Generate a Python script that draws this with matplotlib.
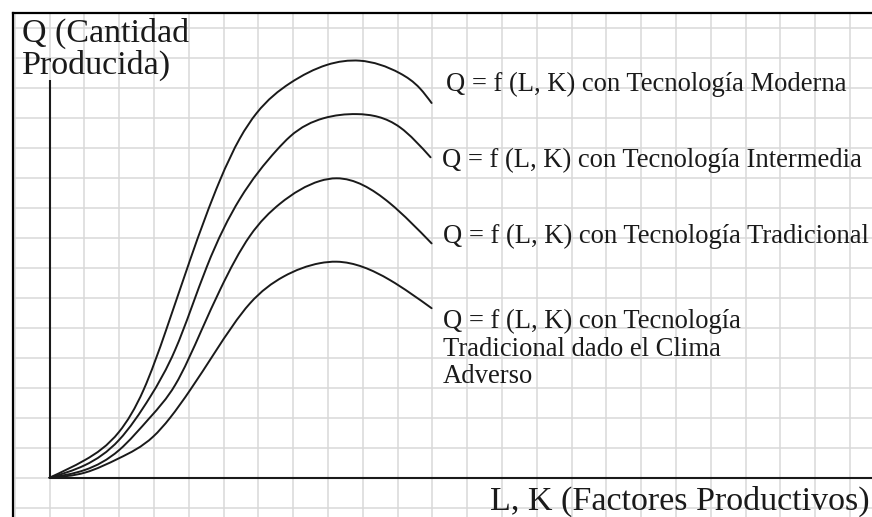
import numpy as np
import matplotlib
matplotlib.use("Agg")
import matplotlib.pyplot as plt
from matplotlib.path import Path
from matplotlib.patches import PathPatch

plt.rcParams['font.family'] = ['Liberation Serif', 'DejaVu Serif']

# ---- data (grid units) ----
y_axis_title = "Q (Cantidad\nProducida)"
x_axis_title = "L, K (Factores Productivos)"

curve_labels = [
    "Q = f (L, K) con Tecnología Moderna",
    "Q = f (L, K) con Tecnología Intermedia",
    "Q = f (L, K) con Tecnología Tradicional",
    "Q = f (L, K) con Tecnología\nTradicional dado el Clima\nAdverso",
]

moderna_x = [0, 1.02, 2.00, 2.70, 3.35, 4.04, 4.90, 5.47, 5.95, 6.91, 7.97, 8.92, 10.07, 10.65, 10.98]
moderna_y = [0, 0.59, 1.53, 2.92, 4.92, 7.26, 9.92, 11.31, 12.15, 13.15, 13.76, 13.90, 13.48, 12.97, 12.49]

intermedia_x = [0, 1.02, 2.00, 2.89, 3.61, 4.52, 5.47, 6.53, 6.91, 7.87, 8.83, 10.07, 10.95]
intermedia_y = [0, 0.42, 1.26, 2.69, 4.26, 7.03, 9.29, 10.92, 11.37, 11.98, 12.12, 11.68, 10.68]

tradicional_x = [0, 1.02, 2.00, 2.89, 3.61, 4.37, 4.90, 5.76, 6.62, 7.77, 8.25, 9.78, 10.98]
tradicional_y = [0, 0.26, 0.92, 2.01, 3.09, 4.92, 6.26, 8.06, 9.13, 9.89, 9.98, 9.15, 7.81]

adverso_x = [0, 1.02, 2.00, 2.98, 3.46, 4.04, 4.76, 5.76, 6.72, 7.77, 8.25, 9.78, 10.98]
adverso_y = [0, 0.17, 0.65, 1.37, 1.99, 2.92, 4.19, 5.81, 6.70, 7.15, 7.20, 6.59, 5.65]

curves_x = [moderna_x, intermedia_x, tradicional_x, adverso_x]
curves_y = [moderna_y, intermedia_y, tradicional_y, adverso_y]

# ---- layout ----
W, H = 872, 517
XLIM = (-1.049, 23.635)
YLIM = (-1.31, 15.49)
Y_AXIS_TOP = 13.26
label_pos = [(11.39, 12.89), (11.28, 10.36), (11.31, 7.82), (11.31, 3.16)]
ink = '#1a1a1a'


def spline_path(xs, ys):
    """Natural cubic spline through the points, drawn as exact Bezier segments."""
    x = np.asarray(xs, float)
    y = np.asarray(ys, float)
    n = len(x)
    h = np.diff(x)
    A = np.zeros((n, n))
    b = np.zeros(n)
    A[0, 0] = 1.0
    A[-1, -1] = 1.0
    for i in range(1, n - 1):
        A[i, i - 1] = h[i - 1]
        A[i, i] = 2 * (h[i - 1] + h[i])
        A[i, i + 1] = h[i]
        b[i] = 6 * ((y[i + 1] - y[i]) / h[i] - (y[i] - y[i - 1]) / h[i - 1])
    M = np.linalg.solve(A, b)
    d = np.zeros(n)
    for i in range(n - 1):
        d[i] = (y[i + 1] - y[i]) / h[i] - h[i] * (2 * M[i] + M[i + 1]) / 6
    d[-1] = (y[-1] - y[-2]) / h[-1] + h[-1] * (M[-2] + 2 * M[-1]) / 6
    verts = [(x[0], y[0])]
    codes = [Path.MOVETO]
    for i in range(n - 1):
        verts += [(x[i] + h[i] / 3, y[i] + d[i] * h[i] / 3),
                  (x[i + 1] - h[i] / 3, y[i + 1] - d[i + 1] * h[i] / 3),
                  (x[i + 1], y[i + 1])]
        codes += [Path.CURVE4] * 3
    return Path(verts, codes)


fig = plt.figure(figsize=(W / 100, H / 100), dpi=100)
ax = fig.add_axes([13 / W, 0, 1 - 13 / W, 1 - 13 / H])
ax.set_xlim(*XLIM)
ax.set_ylim(*YLIM)

ax.set_xticks(np.arange(-1, 24))
ax.set_yticks(np.arange(-1, 16))
ax.tick_params(length=0, labelbottom=False, labelleft=False)
ax.grid(True, color='#d9d9d9', lw=1.1)
ax.set_axisbelow(True)
for side in ('right', 'bottom'):
    ax.spines[side].set_visible(False)
for side in ('left', 'top'):
    ax.spines[side].set_linewidth(1.6)
    ax.spines[side].set_color('black')

# axes of the diagram
ax.plot([0, 0], [0, Y_AXIS_TOP], color=ink, lw=1.5, solid_capstyle='butt', zorder=3)
ax.plot([0, XLIM[1]], [0, 0], color=ink, lw=1.5, solid_capstyle='butt', zorder=3)

for xs, ys in zip(curves_x, curves_y):
    ax.add_patch(PathPatch(spline_path(xs, ys), fill=False, edgecolor=ink, lw=1.4,
                           capstyle='round', joinstyle='round', zorder=4))

for lab, (lx, ly) in zip(curve_labels, label_pos):
    ax.text(lx, ly, lab, fontsize=19.2, color=ink, ha='left', va='baseline', linespacing=1.12)

ax.text(-0.79, 13.46, y_axis_title, fontsize=24.5, color=ink, ha='left', va='baseline', linespacing=1.05)
ax.text(12.66, -1.08, x_axis_title, fontsize=24.5, color=ink, ha='left', va='baseline')

fig.savefig('out.png', dpi=100)
